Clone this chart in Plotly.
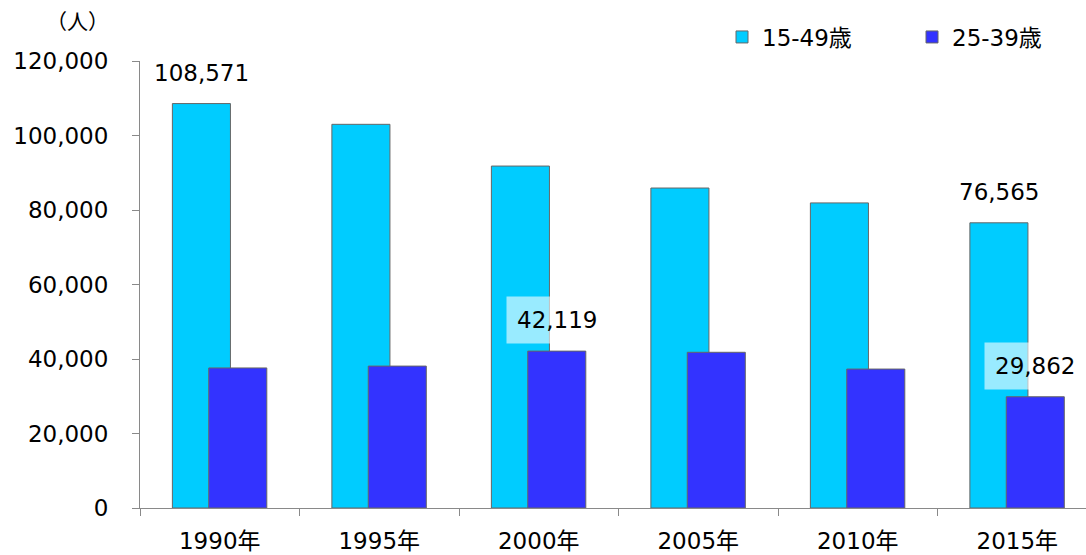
import plotly.graph_objects as go

years = ["1990年", "1995年", "2000年", "2005年", "2010年", "2015年"]
age_15_49 = [108571, 103000, 91800, 85900, 81900, 76565]
age_25_39 = [37600, 38100, 42119, 41800, 37300, 29862]
name_a = "15-49歳"
name_b = "25-39歳"
y_ticks = [0, 20000, 40000, 60000, 80000, 100000, 120000]

FONT = "DejaVu Sans, Noto Sans CJK JP, sans-serif"
FS = 23
BAR_W = 0.364
PW, PH = 946, 447  # plot area in px

fig = go.Figure()
fig.add_trace(go.Bar(
    x=years, y=age_15_49, name=name_a,
    width=BAR_W, offset=-0.297,
    marker=dict(color="#00CCFF", line=dict(color="#666666", width=1)),
))
fig.add_trace(go.Bar(
    x=years, y=age_25_39, name=name_b,
    width=BAR_W, offset=-0.069,
    marker=dict(color="#3333FF", line=dict(color="#666666", width=1)),
))

# data labels
labels = [
    (0, age_15_49[0], -18.5, None),
    (5, age_15_49[5], -18.5, None),
    (2, age_25_39[2], 18, "rgba(255,255,255,0.6)"),
    (5, age_25_39[5], 18, "rgba(255,255,255,0.6)"),
]
for i, v, dx, bg in labels:
    fig.add_annotation(
        x=years[i], y=v, xref="x", yref="y",
        text=f"{v:,}", showarrow=False,
        xshift=dx, yshift=31, yanchor="middle",
        font=dict(family=FONT, size=FS, color="#000000"),
        bgcolor=bg if bg else "rgba(0,0,0,0)", borderpad=10 if bg else 1,
    )

fig.add_annotation(
    x=(77 - 140) / PW, y=(508 - 22) / PH, xref="paper", yref="paper",
    text="（人）", showarrow=False, xanchor="center", yanchor="middle",
    font=dict(family=FONT, size=21, color="#000000"),
)

fig.update_layout(
    width=1086, height=555,
    margin=dict(l=140, r=0, t=61, b=47, autoexpand=False),
    paper_bgcolor="white", plot_bgcolor="white",
    barmode="overlay",
    font=dict(family=FONT, size=FS, color="#000000"),
    showlegend=True,
    legend=dict(
        orientation="h", x=(722 - 140) / PW, y=(508 - 37) / PH,
        xanchor="left", yanchor="middle",
        font=dict(family=FONT, size=FS, color="#000000"),
        entrywidth=145, entrywidthmode="pixels",
        bgcolor="rgba(0,0,0,0)",
    ),
    xaxis=dict(
        type="category", range=[-0.5, 5.431], automargin=False,
        tickson="boundaries", ticks="outside", ticklen=7,
        tickcolor="#898989", showline=True, linecolor="#898989", linewidth=1,
        showgrid=False, ticklabelstandoff=12,
        tickfont=dict(family=FONT, size=FS, color="#000000"),
    ),
    yaxis=dict(
        range=[0, 120000], tickvals=y_ticks, tickformat=",", automargin=False,
        ticks="outside", ticklen=7, tickcolor="#898989",
        showline=True, linecolor="#898989", linewidth=1,
        showgrid=False, zeroline=False, ticklabelstandoff=19,
        tickfont=dict(family=FONT, size=FS, color="#000000"),
    ),
)

fig.write_html("out.html")
